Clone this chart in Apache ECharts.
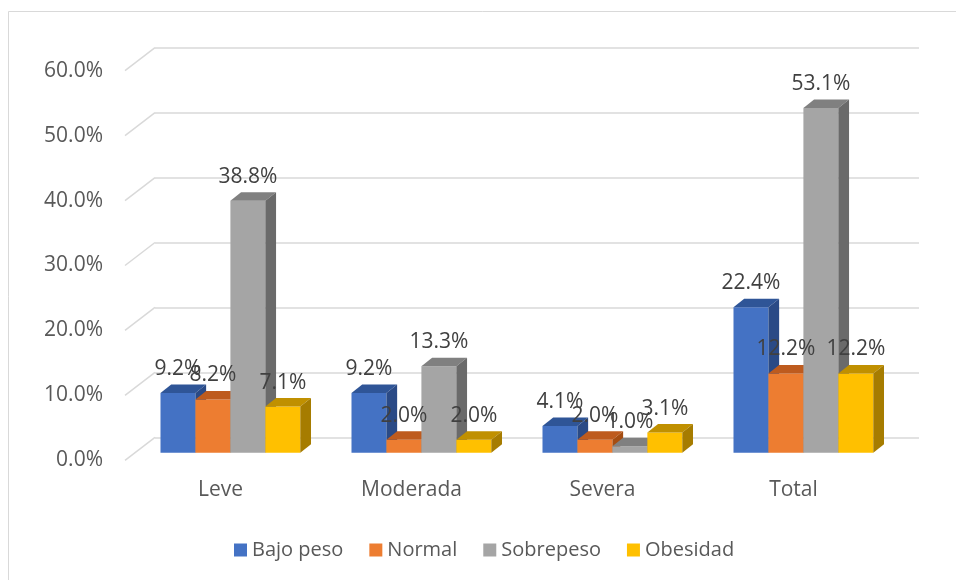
<!DOCTYPE html>
<html><head><meta charset="utf-8">
<script src="https://cdn.jsdelivr.net/npm/echarts@6/dist/echarts.min.js"></script>
<style>html,body{margin:0;padding:0;background:#fff}#c{width:956px;height:580px}</style>
</head><body><div id="c"></div>
<script>
// ---- data ----
const categories = ['Leve', 'Moderada', 'Severa', 'Total'];
const seriesNames = ['Bajo peso', 'Normal', 'Sobrepeso', 'Obesidad'];
const bajoPeso  = [9.2, 9.2, 4.1, 22.4];
const normal    = [8.2, 2.0, 2.0, 12.2];
const sobrepeso = [38.8, 13.3, 1.0, 53.1];
const obesidad  = [7.1, 2.0, 3.1, 12.2];
const yTicks = [0, 10, 20, 30, 40, 50, 60];

// ---- style ----
const frontColors = ['#4472C4', '#ED7D31', '#A5A5A5', '#FFC000'];
const topColors   = ['#2F5597', '#BE5B1E', '#808080', '#C09000'];
const sideColors  = ['#2A4A86', '#A54D12', '#6A6A6A', '#A67C00'];
const FONT = 'Open Sans';
const FS = 21;
const DEPTH_X = 30, DEPTH_Y = 23;        // full floor depth (oblique projection)
const BAR_PLANE = 0.67;                  // bars' front face position in depth
const BAR_DX = 10.7, BAR_DY = -8.5;      // bar's own depth
const BAR_FRAC = 0.183;
const BACK = {left: 155, top: 47.7, width: 764, height: 389.6};
const gridAt = f => ({left: BACK.left - DEPTH_X * f, top: BACK.top + DEPTH_Y * f, width: BACK.width, height: BACK.height});
const g0 = gridAt(0), g1 = gridAt(BAR_PLANE), g2 = gridAt(1);
const toGrid = g => ({left: g.left, top: g.top, width: g.width, height: g.height, containLabel: false, outerBoundsMode: 'none'});

const allValues = [bajoPeso, normal, sobrepeso, obesidad];

function barSeries(idx) {
  return {
    type: 'custom', name: seriesNames[idx], xAxisIndex: 1, yAxisIndex: 1,
    itemStyle: {color: frontColors[idx]},
    data: allValues[idx].map((v, i) => [i, v]),
    encode: {x: 0, y: 1},
    renderItem(params, api) {
      const ci = api.value(0), v = api.value(1);
      const band = api.size([1, 0])[0];
      const bw = band * BAR_FRAC;
      const c = api.coord([ci, v]);
      const b = api.coord([ci, 0]);
      const x0 = c[0] - 2 * bw + idx * bw, x1 = x0 + bw;
      const yt = c[1], yb = b[1];
      return {
        type: 'group',
        children: [
          {type: 'rect', shape: {x: x0, y: yt, width: bw, height: yb - yt}, style: {fill: frontColors[idx]}},
          {type: 'polygon', shape: {points: [[x0, yt], [x1, yt], [x1 + BAR_DX, yt + BAR_DY], [x0 + BAR_DX, yt + BAR_DY]]}, style: {fill: topColors[idx]}},
          {type: 'polygon', shape: {points: [[x1, yb], [x1, yt], [x1 + BAR_DX, yt + BAR_DY], [x1 + BAR_DX, yb + BAR_DY]]}, style: {fill: sideColors[idx]}},
          {type: 'text', z2: 100, style: {text: v.toFixed(1) + '%', x: (x0 + x1) / 2, y: yt - 24, textAlign: 'center', textVerticalAlign: 'middle', fill: '#404040', fontSize: FS, fontFamily: FONT}}
        ]
      };
    }
  };
}

const option = {
  animation: false,
  backgroundColor: '#fff',
  graphic: [{type: 'rect', silent: true, shape: {x: 8.5, y: 11.5, width: 1000, height: 1000}, style: {fill: 'none', stroke: '#D9D9D9', lineWidth: 1}}],
  grid: [toGrid(g0), toGrid(g1), toGrid(g2)],
  xAxis: [
    {gridIndex: 0, type: 'value', min: 0, max: 4, show: false},
    {gridIndex: 1, type: 'category', data: categories, show: false},
    {gridIndex: 2, type: 'category', data: categories, axisLine: {show: false}, axisTick: {show: false},
     axisLabel: {color: '#595959', fontSize: FS, fontFamily: FONT, margin: 19}}
  ],
  yAxis: [
    {gridIndex: 0, type: 'value', min: 0, max: 60, interval: 10, axisLabel: {show: false}, axisLine: {show: false}, axisTick: {show: false},
     splitLine: {lineStyle: {color: '#D9D9D9', width: 1.5}}},
    {gridIndex: 1, type: 'value', min: 0, max: 60, interval: 10, show: false, splitLine: {show: false}},
    {gridIndex: 2, type: 'value', min: 0, max: 60, interval: 10, axisLine: {show: false}, axisTick: {show: false}, splitLine: {show: false},
     axisLabel: {color: '#595959', fontSize: FS, fontFamily: FONT, margin: 22, formatter: v => v.toFixed(1) + '%'}}
  ],
  legend: {
    data: seriesNames.map(n => ({name: n, icon: 'rect'})),
    left: 229, top: 535, itemWidth: 13, itemHeight: 13, itemGap: 26,
    textStyle: {color: '#595959', fontSize: 20, fontFamily: FONT}
  },
  series: [
    {
      type: 'custom', name: 'diag', silent: true, xAxisIndex: 0, yAxisIndex: 0,
      data: yTicks.map(t => [0, t]), encode: {x: 0, y: 1},
      renderItem(params, api) {
        const p = api.coord([api.value(0), api.value(1)]);
        return {type: 'line', shape: {x1: p[0], y1: p[1], x2: p[0] - DEPTH_X, y2: p[1] + DEPTH_Y}, style: {stroke: '#D9D9D9', lineWidth: 1.5}};
      }
    },
    barSeries(0), barSeries(1), barSeries(2), barSeries(3)
  ]
};
const chart = echarts.init(document.getElementById('c'), null, {renderer: 'canvas'});
chart.setOption(option);
</script>
</body></html>
